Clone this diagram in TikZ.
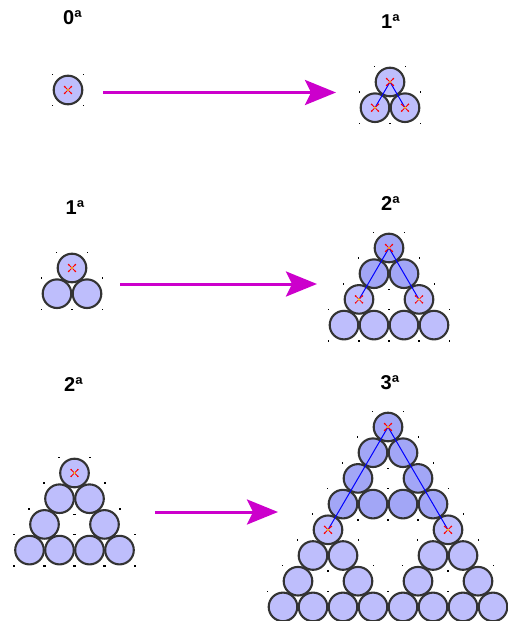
\documentclass[tikz,border=0pt]{standalone}
\usepackage{fontspec}
\setmainfont{Liberation Sans}
\usetikzlibrary{arrows.meta}

\definecolor{ballfill}{HTML}{BEBEFC}
\definecolor{balldark}{HTML}{A2A6F6}
\definecolor{ballrim}{HTML}{333333}
\definecolor{arrowmag}{HTML}{CC00CC}
\definecolor{markcentre}{HTML}{F2D21A}

\tikzset{
  ball/.style={circle, draw=ballrim, line width=2.1pt, fill=ballfill,
    minimum size=28.6pt, inner sep=0pt},
  darkball/.style={ball, fill=balldark},
  stagelabel/.style={font=\bfseries\fontsize{20}{22}\selectfont, inner sep=0pt},
  bigarrow/.style={draw=arrowmag, line width=3pt,
    -{Stealth[length=31pt, width=25pt, inset=6pt, fill=arrowmag]}},
  link/.style={draw=blue, line width=1pt},
}

% ball lists as row/column pairs
\def\levelzero{0/0}
\def\levelone{0/0,1/0,1/1}
\def\lowertwo{2/0,2/2,3/0,3/1,3/2,3/3}
\def\leveltwo{0/0,1/0,1/1,2/0,2/2,3/0,3/1,3/2,3/3}
\def\lowerthree{4/0,4/4,5/0,5/1,5/4,5/5,6/0,6/2,6/4,6/6,7/0,7/1,7/2,7/3,7/4,7/5,7/6,7/7}
\def\levelthree{0/0,1/0,1/1,2/0,2/2,3/0,3/1,3/2,3/3,4/0,4/4,5/0,5/1,5/4,5/5,6/0,6/2,6/4,6/6,7/0,7/1,7/2,7/3,7/4,7/5,7/6,7/7}

% small selection ticks at the corners of each ball's box
\newcommand\boxticks[3]{%
  \foreach \r/\k in #3{
    \foreach \sx/\sy in {-1/-1,1/-1,-1/1,1/1}{
      \fill[black] (#1+30*\k-15*\r+15.6*\sx-0.8, #2+25.7*\r+15.6*\sy-0.8) rectangle +(1.6,1.6);
    }
  }%
}
% a triangular stack of balls; node names are prefix-row-column
\newcommand\ballstack[5]{%
  \foreach \r/\k in #4{
    \node[#5] (#1-\r-\k) at (#2+30*\k-15*\r, #3+25.7*\r) {};
  }%
}
% red cross with a yellow centre on a ball
\newcommand\crossmark[1]{%
  \begin{scope}[shift={(#1.center)}]
    \draw[red, line width=0.8pt] (-3.4,-3.4) -- (3.4,3.4) (-3.4,3.4) -- (3.4,-3.4);
    \fill[red] (-3.4,-3.4) circle (0.9) (3.4,3.4) circle (0.9)
               (-3.4,3.4) circle (0.9) (3.4,-3.4) circle (0.9);
    \fill[markcentre] (0,0) circle (1.2);
  \end{scope}%
}

\begin{document}
\begin{tikzpicture}[x=1pt, y=-1pt]
  \useasboundingbox (0,0) rectangle (507,621);

  % ---- stage labels
  \node[stagelabel] (l0)  at (72.5,17.5) {0ª};
  \node[stagelabel] (l1r) at (390.5,22)  {1ª};
  \node[stagelabel] (l1l) at (75,207.5)  {1ª};
  \node[stagelabel] (l2r) at (390.5,203.5) {2ª};
  \node[stagelabel] (l2l) at (73.5,385)  {2ª};
  \node[stagelabel] (l3r) at (390,383)   {3ª};

  % ---- row 1: one ball becomes three
  \boxticks{68}{90}{\levelzero}
  \ballstack{a}{68}{90}{\levelzero}{ball}
  \crossmark{a-0-0}

  \boxticks{390}{82}{\levelone}
  \ballstack{b}{390}{82}{\levelone}{ball}
  \draw[link] (b-0-0.center) -- (b-1-0.center);
  \draw[link] (b-0-0.center) -- (b-1-1.center);
  \crossmark{b-0-0}\crossmark{b-1-0}\crossmark{b-1-1}

  \coordinate (s1) at (103,92.5);
  \coordinate (e1) at (336,92.5);
  \draw[bigarrow] (s1) -- (e1);

  % ---- row 2: three balls become nine
  \boxticks{72}{268}{\levelone}
  \ballstack{c}{72}{268}{\levelone}{ball}
  \crossmark{c-0-0}

  \boxticks{389}{248}{\leveltwo}
  \ballstack{d}{389}{248}{\levelone}{darkball}
  \ballstack{d}{389}{248}{\lowertwo}{ball}
  \draw[link] (d-0-0.center) -- (d-2-0.center);
  \draw[link] (d-0-0.center) -- (d-2-2.center);
  \crossmark{d-0-0}\crossmark{d-2-0}\crossmark{d-2-2}

  \coordinate (s2) at (120,284);
  \coordinate (e2) at (317,284);
  \draw[bigarrow] (s2) -- (e2);

  % ---- row 3: nine balls become twenty-seven
  \boxticks{74.5}{473}{\leveltwo}
  \ballstack{f}{74.5}{473}{\leveltwo}{ball}
  \crossmark{f-0-0}

  \boxticks{388}{427}{\levelthree}
  \ballstack{g}{388}{427}{\leveltwo}{darkball}
  \ballstack{g}{388}{427}{\lowerthree}{ball}
  \draw[link] (g-0-0.center) -- (g-4-0.center);
  \draw[link] (g-0-0.center) -- (g-4-4.center);
  \crossmark{g-0-0}\crossmark{g-4-0}\crossmark{g-4-4}

  \coordinate (s3) at (155,512);
  \coordinate (e3) at (278,512);
  \draw[bigarrow] (s3) -- (e3);
\end{tikzpicture}
\end{document}
